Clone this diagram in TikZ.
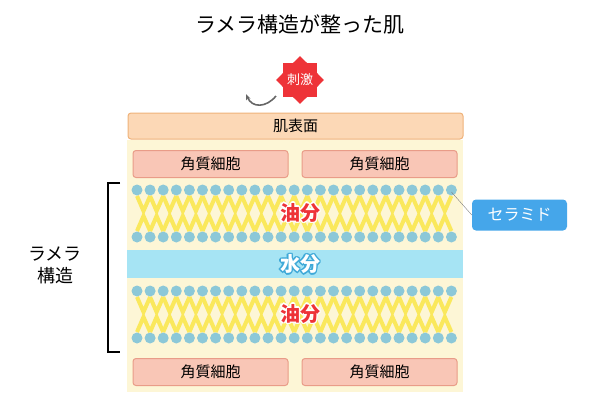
\documentclass[tikz,border=0pt]{standalone}
\usepackage{fontspec}
\setmainfont{Noto Sans CJK JP}
\usetikzlibrary{shapes.geometric,arrows.meta}
\definecolor{cream}{HTML}{FDF6D6}
\definecolor{skin}{HTML}{FCD8B6}
\definecolor{skinline}{HTML}{EFB27A}
\definecolor{cell}{HTML}{F9C6B6}
\definecolor{cellline}{HTML}{E99C88}
\definecolor{head}{HTML}{8CC8D8}
\definecolor{tail}{HTML}{FAE85C}
\definecolor{water}{HTML}{A6E4F4}
\definecolor{waterline}{HTML}{3FA9D8}
\definecolor{cera}{HTML}{45A6EA}
\definecolor{burst}{HTML}{EE3338}
\begin{document}
\begin{tikzpicture}[x=1pt,y=-1pt,
    cellbox/.style={rectangle,rounded corners=3pt,draw=cellline,fill=cell,line width=1pt,minimum width=155pt,minimum height=27pt,font=\fontsize{15}{15}\selectfont},
    headdot/.style={circle,fill=head,inner sep=0pt,minimum size=11pt},
    bigtext/.style={font=\bfseries\fontsize{20}{20}\selectfont}]
  \useasboundingbox (0,0) rectangle (600,400);
  \node (title) at (300,25) {\fontsize{21}{21}\selectfont ラメラ構造が整った肌};
  % background of skin layer
  \fill[cream] (127,140) rectangle (463,392);
  \node[rectangle,rounded corners=3pt,draw=skinline,fill=skin,line width=1pt,minimum width=335pt,minimum height=26pt,font=\fontsize{15}{15}\selectfont] (surface) at (295.5,126) {肌表面};
  \node[cellbox] (c1) at (210.5,164) {角質細胞};
  \node[cellbox] (c2) at (379.5,164) {角質細胞};
  \node[cellbox] (c3) at (210.5,372) {角質細胞};
  \node[cellbox] (c4) at (379.5,372) {角質細胞};
  % lipid layers
  \foreach \ytop in {190,291}{
    \foreach \i in {0,...,23}{
      \pgfmathsetmacro{\xa}{137+13.1*\i}
      \draw[tail,line width=4pt] (\xa,\ytop+6) -- (\xa+6.5,\ytop+21) -- (\xa+13.1,\ytop+6);
      \draw[tail,line width=4pt] (\xa,\ytop+41) -- (\xa+6.5,\ytop+26) -- (\xa+13.1,\ytop+41);
    }
    \foreach \i in {0,...,24}{
      \node[headdot] at (137+13.1*\i,\ytop) {};
      \node[headdot] at (137+13.1*\i,\ytop+47) {};
    }
  }
  \coordinate (lastdot) at (451.4,192);
  \fill[water] (127,250) rectangle (463,278);
  % outlined texts
  \foreach \dx/\dy in {-1.5/0,1.5/0,0/-1.5,0/1.5,-1/-1,1/1,-1/1,1/-1}{
    \node[bigtext,text=white] at (300+\dx,213+\dy) {油分};
    \node[bigtext,text=white] at (300+\dx,314+\dy) {油分};
    \node[bigtext,text=waterline] at (300+\dx,264+\dy) {水分};
  }
  \node[bigtext,text=white] (water) at (300,264) {水分};
  \node[bigtext,text=burst] (oil2) at (300,314) {油分};
  \node[bigtext,text=burst] (oil1) at (300,213) {油分};
  % ceramide label
  \node[rectangle,rounded corners=4pt,fill=cera,text=white,minimum width=95pt,minimum height=31pt,font=\fontsize{16}{16}\selectfont] (cer) at (519.5,215) {セラミド};
  \draw[gray] (lastdot) -- (cer.west);
  % bracket
  \coordinate (bt) at (108,183);
  \coordinate (bb) at (108,352);
  \draw[line width=2pt] ([xshift=12pt]bt) -- (bt) -- (bb) -- ([xshift=12pt]bb);
  \node[align=center,font=\fontsize{18}{22}\selectfont] (lam) at (55,265) {ラメラ\\構造};
  % stimulus
  \node[star,star points=8,star point ratio=1.3,fill=burst,minimum size=46pt,inner sep=0pt,text=white,font=\fontsize{13}{13}\selectfont] (stim) at (300,80) {刺激};
  \coordinate (arrowstart) at (276,96);
  \coordinate (arrowend) at (246,94);
  \draw[-{Stealth[length=6pt]},line width=1.6pt,darkgray!80] (arrowstart) .. controls (266,108) and (252,108) .. (arrowend);
\end{tikzpicture}
\end{document}
